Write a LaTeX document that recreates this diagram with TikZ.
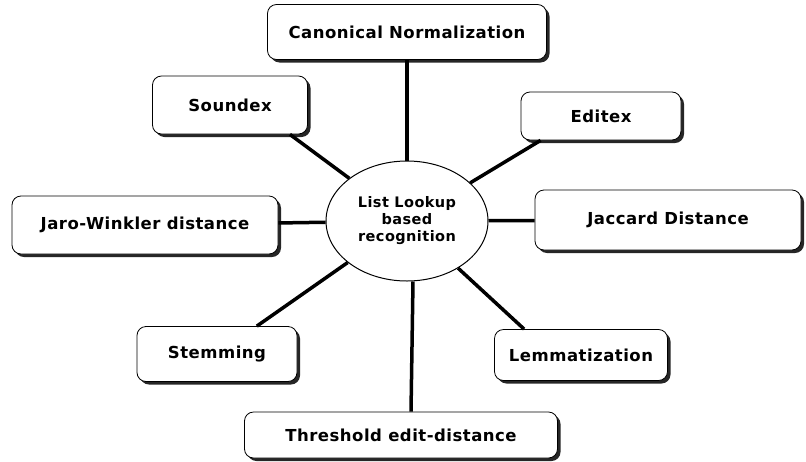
\documentclass[tikz,border=0pt]{standalone}
\usepackage{fontspec}
\setmainfont{DejaVu Sans}
\newfontfamily\mapfont[LetterSpace=3]{DejaVu Sans Bold}
\usetikzlibrary{shapes.geometric,shadows}
\tikzset{
  method/.style={draw=black,line width=0.8pt,rounded corners=9pt,fill=white,
    drop shadow={shadow xshift=3pt,shadow yshift=-3pt,fill=black!85,opacity=1},
    font=\mapfont\fontsize{16.5}{19}\selectfont,inner sep=0pt},
  hub/.style={draw=black,line width=1pt,ellipse,fill=white,align=center,
    minimum width=162pt,minimum height=120pt,
    font=\mapfont\fontsize{14.5}{17}\selectfont},
  link/.style={line width=3.5pt}
}
\begin{document}
\begin{tikzpicture}[x=1pt,y=-1pt]
  \useasboundingbox (0,0) rectangle (806,461);
  % centre of the mind map
  \node[hub] (hub) at (407,221) {List Lookup\\based\\recognition};
  % methods round it
  \node[method,minimum width=279pt,minimum height=55pt] (cn) at (407,32) {Canonical Normalization};
  \node[method,minimum width=155pt,minimum height=58pt] (sx) at (230,105) {Soundex};
  \node[method,minimum width=160pt,minimum height=48pt] (ed) at (601,116) {Editex};
  \node[method,minimum width=266pt,minimum height=58pt] (jw) at (145,225) {Jaro-Winkler distance};
  \node[method,minimum width=266pt,minimum height=60pt] (jc) at (668,220) {Jaccard Distance};
  \node[method,minimum width=160pt,minimum height=55pt] (st) at (217,354) {Stemming};
  \node[method,minimum width=173pt,minimum height=51pt] (lm) at (581,355) {Lemmatization};
  \node[method,minimum width=313pt,minimum height=46pt] (th) at (401,435) {Threshold edit-distance};
  % spokes
  \draw[link] (cn) -- (hub);
  \draw[link] ([xshift=-18pt]sx.south east) -- (hub);
  \draw[link] ([xshift=20pt]ed.south west) -- (hub);
  \draw[link] (jw) -- (hub);
  \draw[link] (jc) -- (hub);
  \draw[link] (st) -- (hub);
  \draw[link] ([xshift=30pt]lm.north west) -- (hub);
  \draw[link] ([xshift=10pt]th.north) -- ([xshift=6pt]hub.south);
\end{tikzpicture}
\end{document}
